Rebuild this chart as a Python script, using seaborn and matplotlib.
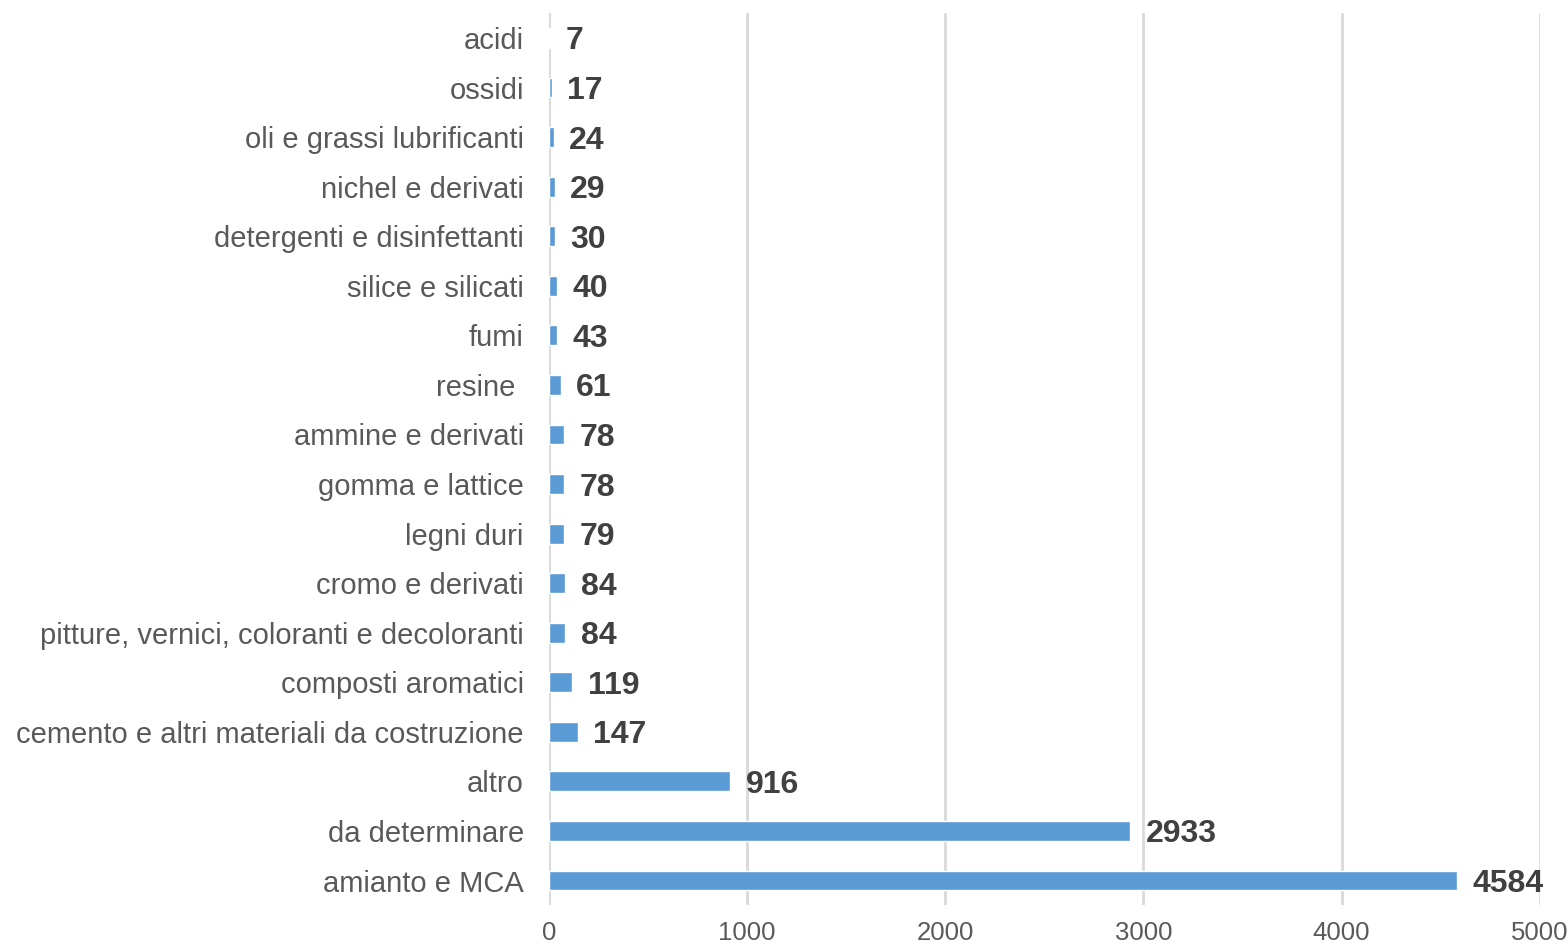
import pandas as pd
import matplotlib.pyplot as plt
import seaborn as sns

# categories from top to bottom, as in the reference
categories = [
    'acidi', 'ossidi', 'oli e grassi lubrificanti', 'nichel e derivati',
    'detergenti e disinfettanti', 'silice e silicati', 'fumi', 'resine ',
    'ammine e derivati', 'gomma e lattice', 'legni duri', 'cromo e derivati',
    'pitture, vernici, coloranti e decoloranti', 'composti aromatici',
    'cemento e altri materiali da costruzione', 'altro', 'da determinare',
    'amianto e MCA',
]
counts = [7, 17, 24, 29, 30, 40, 43, 61, 78, 78, 79, 84, 84, 119, 147, 916, 2933, 4584]
x_ticks = [0, 1000, 2000, 3000, 4000, 5000]

df = pd.DataFrame({'agente': categories, 'casi': counts})

sns.set_theme(style='white')
plt.rcParams['font.family'] = ['Liberation Sans', 'DejaVu Sans']

fig = plt.figure(figsize=(15.68, 9.44), dpi=100)
ax = fig.add_axes([0.350, 0.041, 0.632, 0.945])

sns.barplot(data=df, x='casi', y='agente', orient='h', color='#5B9BD5',
            saturation=1, width=0.4, ax=ax)

# value labels at the end of each bar
for bar, val in zip(ax.patches, counts):
    ax.annotate(str(val), xy=(bar.get_width(), bar.get_y() + bar.get_height() / 2),
                xytext=(11, 0), textcoords='offset points', ha='left',
                va='center_baseline', fontsize=23, fontweight='bold', color='#404040')

ax.set_xlim(0, 5000)
ax.set_xticks(x_ticks)
ax.set_xticklabels([str(t) for t in x_ticks])
ax.xaxis.grid(True, color='#D9D9D9', linewidth=2)
ax.set_axisbelow(True)
for s in ax.spines.values():
    s.set_visible(False)

ax.set_xlabel('')
ax.set_ylabel('')
ax.tick_params(axis='y', length=0, pad=18, labelsize=21, labelcolor='#595959')
ax.tick_params(axis='x', length=0, pad=11, labelsize=18.5, labelcolor='#595959')

fig.savefig('out.png', dpi=100)
